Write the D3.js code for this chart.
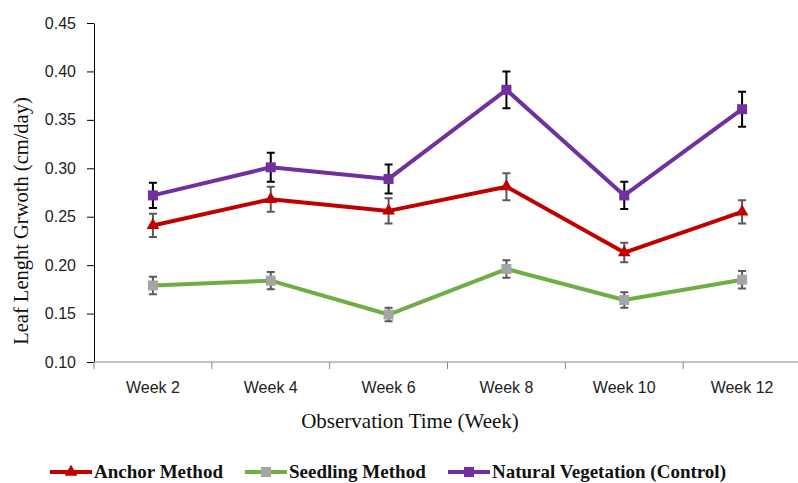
<!DOCTYPE html>
<html>
<head>
<meta charset="utf-8">
<script src="https://cdn.jsdelivr.net/npm/d3@7"></script>
<style>
  body { margin: 0; background: #fff; }
  svg { display: block; }
</style>
</head>
<body>
<svg id="drawing_region"></svg>
<script>
const weeks = ['Week 2', 'Week 4', 'Week 6', 'Week 8', 'Week 10', 'Week 12'];
const yticks = [0.10, 0.15, 0.20, 0.25, 0.30, 0.35, 0.40, 0.45];

const anchor = [0.241, 0.268, 0.256, 0.281, 0.213, 0.255];
const anchor_err = [0.012, 0.013, 0.013, 0.014, 0.010, 0.012];
const seedling = [0.179, 0.184, 0.149, 0.196, 0.164, 0.185];
const seedling_err = [0.009, 0.009, 0.007, 0.009, 0.008, 0.009];
const natural = [0.272, 0.301, 0.289, 0.381, 0.272, 0.361];
const natural_err = [0.013, 0.015, 0.015, 0.019, 0.014, 0.018];

const series = [
    { name: 'Anchor Method', values: anchor, err: anchor_err, color: '#C00000', marker: '#C00000', errColor: '#595959', shape: 'triangle' },
    { name: 'Seedling Method', values: seedling, err: seedling_err, color: '#70AD47', marker: '#A5A5A5', errColor: '#595959', shape: 'square' },
    { name: 'Natural Vegetation (Control)', values: natural, err: natural_err, color: '#7030A0', marker: '#7030A0', errColor: '#000', shape: 'square' },
];

const width = 798, height = 483;
const margin = { top: 23, right: -3, bottom: 121, left: 94 };
const inner_width = width - margin.left - margin.right;
const inner_height = height - margin.top - margin.bottom;

const svg = d3.select('#drawing_region')
    .attr('width', width)
    .attr('height', height);

const chart = svg.append('g')
    .attr('transform', `translate(${margin.left}, ${margin.top})`);

const xscale = d3.scaleBand().domain(weeks).range([0, inner_width]);
const yscale = d3.scaleLinear().domain([0.10, 0.45]).range([inner_height, 0]);

const sansFont = "'Liberation Sans', Arial, sans-serif";
const serifFont = "'Liberation Serif', 'Times New Roman', serif";

// y axis
const yaxis = d3.axisLeft(yscale)
    .tickValues(yticks)
    .tickFormat(d3.format('.2f'))
    .tickSize(7)
    .tickSizeOuter(0)
    .tickPadding(11);
const yaxis_group = chart.append('g').call(yaxis);
yaxis_group.select('.domain').attr('stroke', '#000').attr('stroke-width', 1);
yaxis_group.selectAll('.tick line').attr('stroke', '#000');
yaxis_group.selectAll('text')
    .attr('font-family', sansFont)
    .attr('font-size', 16)
    .attr('fill', '#222');

// x axis with ticks on band boundaries
const xaxis_group = chart.append('g')
    .attr('transform', `translate(0, ${inner_height})`);
xaxis_group.append('line')
    .attr('x1', 0).attr('x2', inner_width)
    .attr('stroke', '#888').attr('stroke-width', 1);
xaxis_group.selectAll('.xtick')
    .data(weeks.concat(['end']))
    .enter()
    .append('line')
    .attr('x1', (d, i) => i < weeks.length ? xscale(d) : inner_width)
    .attr('x2', (d, i) => i < weeks.length ? xscale(d) : inner_width)
    .attr('y1', 0).attr('y2', 7)
    .attr('stroke', '#888');
xaxis_group.selectAll('.xlabel')
    .data(weeks)
    .enter()
    .append('text')
    .attr('x', d => xscale(d) + xscale.bandwidth() / 2)
    .attr('y', 31)
    .attr('text-anchor', 'middle')
    .attr('font-family', sansFont)
    .attr('font-size', 16)
    .attr('fill', '#222')
    .text(d => d);

// axis titles
svg.append('text')
    .attr('transform', 'translate(28, 221) rotate(-90)')
    .attr('text-anchor', 'middle')
    .attr('font-family', serifFont)
    .attr('font-size', 20.5)
    .attr('fill', '#111')
    .text('Leaf Lenght Grwoth (cm/day)');

svg.append('text')
    .attr('x', 410)
    .attr('y', 428)
    .attr('text-anchor', 'middle')
    .attr('font-family', serifFont)
    .attr('font-size', 21)
    .attr('fill', '#111')
    .text('Observation Time (Week)');

const cx = d => xscale(d) + xscale.bandwidth() / 2;

const line = d3.line()
    .x((d, i) => cx(weeks[i]))
    .y(d => yscale(d));

const triangle = d3.symbol().type(d3.symbolTriangle).size(70);

series.forEach(s => {
    chart.append('path')
        .attr('d', line(s.values))
        .attr('fill', 'none')
        .attr('stroke', s.color)
        .attr('stroke-width', 4)
        .attr('stroke-linejoin', 'round');
});

series.forEach(s => {
    const g = chart.append('g');
    const pts = s.values.map((v, i) => ({ x: cx(weeks[i]), v: v, e: s.err[i] }));

    // error bars
    g.selectAll('.err')
        .data(pts)
        .enter()
        .append('path')
        .attr('d', d => {
            const t = yscale(d.v + d.e), b = yscale(d.v - d.e);
            return `M${d.x - 4},${t}H${d.x + 4}M${d.x},${t}V${b}M${d.x - 4},${b}H${d.x + 4}`;
        })
        .attr('fill', 'none')
        .attr('stroke', s.errColor)
        .attr('stroke-width', 2);

    // markers
    if (s.shape === 'square') {
        g.selectAll('.m')
            .data(pts)
            .enter()
            .append('rect')
            .attr('x', d => d.x - 5)
            .attr('y', d => yscale(d.v) - 5)
            .attr('width', 10)
            .attr('height', 10)
            .attr('fill', s.marker);
    } else {
        g.selectAll('.m')
            .data(pts)
            .enter()
            .append('path')
            .attr('d', triangle)
            .attr('transform', d => `translate(${d.x}, ${yscale(d.v)})`)
            .attr('fill', s.marker);
    }
});

// legend
const legendX = [50, 245, 448];
const legend = svg.append('g').attr('transform', 'translate(0, 472)');
series.forEach((s, i) => {
    const lg = legend.append('g').attr('transform', `translate(${legendX[i]}, 0)`);
    lg.append('line')
        .attr('x1', 0).attr('x2', 42)
        .attr('stroke', s.color)
        .attr('stroke-width', 4);
    if (s.shape === 'square') {
        lg.append('rect')
            .attr('x', 16).attr('y', -5)
            .attr('width', 10).attr('height', 10)
            .attr('fill', s.marker);
    } else {
        lg.append('path')
            .attr('d', triangle)
            .attr('transform', 'translate(21, 0)')
            .attr('fill', s.marker);
    }
    lg.append('text')
        .attr('x', 44)
        .attr('y', 6)
        .attr('font-family', serifFont)
        .attr('font-weight', 'bold')
        .attr('font-size', 19)
        .attr('fill', '#111')
        .text(s.name);
});
</script>
</body>
</html>
